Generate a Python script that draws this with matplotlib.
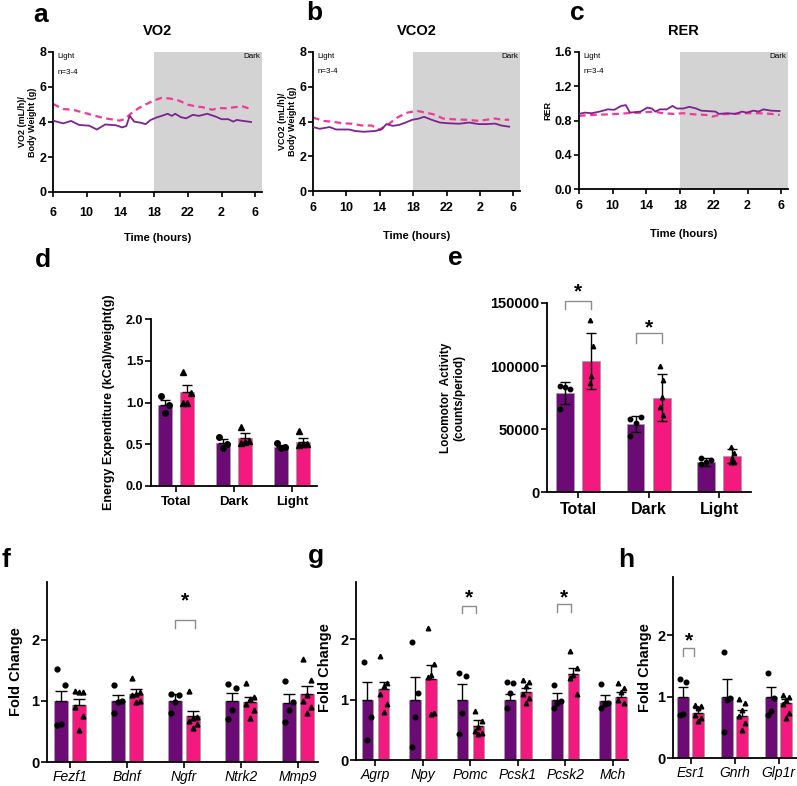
import numpy as np
import matplotlib.pyplot as plt

plt.rcParams['font.family'] = ['Liberation Sans', 'DejaVu Sans']
plt.rcParams['axes.linewidth'] = 1.3

W, H = 797, 786
PURPLE = '#6D0B76'
PINK = '#F3197F'
LINE_PURPLE = '#7E2290'
LINE_PINK = '#F2389A'
SHADE = '#D3D3D3'
BRACKET = '#8C8C8C'
EDGE = '#A0A0A0'

# ---- a-c: time courses, hours counted from 6:00 (24 = midnight, 30 = 6:00 next day)
time_ticks = [6, 10, 14, 18, 22, 26, 30]
time_labels = ['6', '10', '14', '18', '22', '2', '6']

vo2_ctrl_t = [6, 7.2, 8.15, 9.1, 10.3, 11.2, 12.2, 13.5, 14.2, 14.7, 15.1, 15.65, 16.4, 17, 17.6, 18.35,
              18.9, 19.6, 20.1, 20.5, 21.2, 21.8, 22.6, 23.3, 24.3, 25.3, 26, 26.8, 27.4, 27.8, 28.3, 29.5]
vo2_ctrl = [4.08, 3.92, 4.06, 3.83, 3.79, 3.57, 3.86, 3.81, 3.69, 3.77, 4.35, 4.02, 3.96, 3.88, 4.12, 4.27,
            4.35, 4.47, 4.35, 4.47, 4.27, 4.21, 4.41, 4.35, 4.47, 4.31, 4.16, 4.16, 4.02, 4.12, 4.08, 4.0]
vo2_ko_t = [6, 7.2, 8.35, 9.9, 11, 12.2, 13.9, 14.5, 15.3, 16.2, 17.2, 18, 18.9, 19.9, 20.85, 22, 23,
            23.7, 24.9, 25.65, 26.6, 27.6, 28.5, 29.5]
vo2_ko = [5.03, 4.74, 4.7, 4.5, 4.35, 4.21, 4.08, 4.16, 4.5, 4.8, 5.05, 5.24, 5.38, 5.34, 5.24, 4.99, 4.89,
          4.85, 4.7, 4.8, 4.78, 4.85, 4.89, 4.74]

vco2_ctrl_t = [6, 6.8, 8, 8.75, 10.3, 11.1, 12.05, 13.4, 14.2, 14.8, 15.55, 16.3, 17.1, 17.9, 18.7, 19.3,
               20.2, 21.2, 22.15, 23.5, 24.7, 25.85, 26.8, 27.8, 28.55, 29.5]
vco2_ctrl = [3.68, 3.58, 3.68, 3.54, 3.54, 3.45, 3.41, 3.45, 3.54, 3.85, 3.75, 3.8, 3.94, 4.1, 4.17, 4.27,
             4.1, 3.94, 3.9, 3.87, 3.94, 3.85, 3.85, 3.88, 3.77, 3.7]
vco2_ko_t = [6, 7.2, 8.4, 9.5, 10.7, 11.85, 13, 14, 15, 16.1, 17.3, 18.5, 19.45, 20.4, 21.6, 22.7, 24.3,
             25.85, 26.8, 27.8, 28.75, 29.5]
vco2_ko = [4.23, 4.04, 3.98, 3.9, 3.87, 3.77, 3.77, 3.54, 3.83, 4.23, 4.51, 4.61, 4.51, 4.42, 4.17, 4.13,
           4.1, 4.04, 4.1, 4.17, 4.1, 4.1]

rer_ctrl_t = [6, 6.7, 7.5, 8.45, 9.4, 10.2, 11, 11.55, 12.05, 13.3, 14.1, 14.65, 15.05, 15.6, 16.4, 17.1,
              17.6, 18.35, 19.1, 19.9, 20.5, 22.2, 22.6, 23.6, 24.55, 25.35, 25.9, 26.7, 27.3, 27.9, 28.8, 29.8]
rer_ctrl = [0.877, 0.892, 0.885, 0.904, 0.93, 0.925, 0.97, 0.98, 0.892, 0.904, 0.95, 0.94, 0.904, 0.93, 0.93,
            0.97, 0.94, 0.94, 0.96, 0.94, 0.915, 0.904, 0.877, 0.885, 0.877, 0.904, 0.892, 0.915, 0.904,
            0.93, 0.915, 0.91]
rer_ko_t = [6, 7.5, 9, 10.6, 11.75, 13.3, 14.85, 16, 17.2, 18.35, 19.5, 21.05, 21.85, 23, 24.2, 25.7, 27.3,
            28.8, 29.8]
rer_ko = [0.854, 0.865, 0.87, 0.877, 0.885, 0.892, 0.904, 0.885, 0.877, 0.885, 0.873, 0.865, 0.846, 0.873,
          0.877, 0.885, 0.885, 0.877, 0.865]

# ---- d: energy expenditure (mean, SEM, animals)
periods = ['Total', 'Dark', 'Light']
energy_ctrl = [0.97, 0.51, 0.47]
energy_ctrl_sem = [0.06, 0.05, 0.02]
energy_ko = [1.12, 0.58, 0.53]
energy_ko_sem = [0.09, 0.05, 0.05]
energy_ctrl_pts = [[1.08, 0.97, 0.88], [0.59, 0.50, 0.45], [0.51, 0.47, 0.46]]
energy_ko_pts = [[1.37, 1.11, 1.00, 0.99], [0.71, 0.54, 0.53, 0.52], [0.66, 0.50, 0.50, 0.49]]

# ---- e: locomotor activity (mean, SD, animals)
loco_ctrl = [78500, 54000, 23900]
loco_ctrl_sd = [8700, 6600, 2900]
loco_ko = [103700, 75000, 28500]
loco_ko_sd = [22300, 18700, 5300]
loco_ctrl_pts = [[83800, 81900, 83300, 65700], [57700, 59300, 55000, 44400], [26800, 25300, 24200, 22300]]
loco_ko_pts = [[136200, 115700, 91800, 86500], [99700, 88600, 75300, 67800, 61200],
               [35900, 30600, 26600, 23900, 23900]]

# ---- f-h: qPCR fold change (mean, SEM, animals)
genes_f = ['Fezf1', 'Bdnf', 'Ngfr', 'Ntrk2', 'Mmp9']
f_ctrl = [1.0, 1.0, 1.0, 1.0, 0.96]
f_ctrl_sem = [0.16, 0.10, 0.11, 0.13, 0.15]
f_ko = [0.93, 1.12, 0.75, 0.99, 1.12]
f_ko_sem = [0.10, 0.07, 0.08, 0.08, 0.12]
f_ctrl_pts = [[1.52, 1.26, 0.62, 0.60], [1.26, 1.00, 0.98, 0.80], [1.12, 1.10, 0.99, 0.80],
              [1.28, 1.22, 0.85, 0.71], [1.33, 0.98, 0.86, 0.66]]
f_ko_pts = [[1.16, 1.15, 1.14, 0.90, 0.75, 0.52], [1.38, 1.14, 1.12, 1.10, 1.00, 0.98],
            [1.16, 0.74, 0.72, 0.68, 0.62, 0.56], [1.30, 1.06, 1.04, 0.95, 0.85, 0.72],
            [1.68, 1.35, 1.10, 1.00, 0.90, 0.80]]

genes_g = ['Agrp', 'Npy', 'Pomc', 'Pcsk1', 'Pcsk2', 'Mch']
g_ctrl = [1.0, 1.0, 1.0, 1.0, 1.0, 0.98]
g_ctrl_sem = [0.30, 0.37, 0.26, 0.10, 0.11, 0.09]
g_ko = [1.17, 1.35, 0.56, 1.12, 1.43, 1.05]
g_ko_sem = [0.13, 0.23, 0.11, 0.07, 0.10, 0.08]
g_ctrl_pts = [[1.63, 0.71, 0.33], [1.95, 1.11, 0.71, 0.22], [1.44, 1.39, 0.78, 0.43],
              [1.30, 1.28, 1.11, 0.87], [1.24, 0.97, 0.95, 0.87], [1.26, 0.95, 0.93, 0.87]]
g_ko_pts = [[1.73, 1.28, 1.22, 1.10, 0.92, 0.79], [2.18, 1.59, 1.41, 1.38, 0.78, 0.76],
            [0.82, 0.65, 0.55, 0.48, 0.45, 0.43], [1.32, 1.30, 1.22, 1.10, 1.03, 0.95],
            [1.80, 1.52, 1.41, 1.36, 1.10], [1.28, 1.20, 1.12, 1.00, 0.95]]

genes_h = ['Esr1', 'Gnrh', 'Glp1r']
h_ctrl = [1.0, 1.0, 1.0]
h_ctrl_sem = [0.15, 0.28, 0.15]
h_ko = [0.73, 0.69, 0.89]
h_ko_sem = [0.09, 0.10, 0.07]
h_ctrl_pts = [[1.28, 1.24, 0.72, 0.70], [1.72, 0.97, 0.95, 0.43], [1.38, 0.98, 0.76, 0.70]]
h_ko_pts = [[0.87, 0.85, 0.82, 0.70, 0.65, 0.60], [0.96, 0.90, 0.78, 0.68, 0.57, 0.46],
            [1.02, 1.00, 0.95, 0.88, 0.73, 0.65]]


fig = plt.figure(figsize=(W / 100, H / 100), dpi=100)


def add_axes_px(left, top, right, bottom):
    return fig.add_axes([left / W, 1 - bottom / H, (right - left) / W, (bottom - top) / H])


def time_panel(ax, t_ctrl, v_ctrl, t_ko, v_ko, yticks, ylabels, ylabel, label_x, title, xpad):
    ax.axvspan(18, 30.8, color=SHADE, lw=0, zorder=0)
    ax.plot(t_ko, v_ko, color=LINE_PINK, lw=1.6, ls=(0, (3, 2)), zorder=2)
    ax.plot(t_ctrl, v_ctrl, color=LINE_PURPLE, lw=1.3, zorder=3)
    ax.set_xlim(6, 30.8)
    ax.set_ylim(yticks[0], yticks[-1])
    ax.set_xticks(time_ticks, time_labels, fontsize=9, fontweight='bold')
    ax.set_yticks(yticks, ylabels, fontsize=9, fontweight='bold')
    ax.tick_params(axis='both', length=3.5, width=1.2)
    ax.tick_params(axis='x', pad=xpad)
    ax.tick_params(axis='y', pad=1.5)
    ax.spines[['top', 'right']].set_visible(False)
    ax.set_title(title, fontsize=10.5, fontweight='bold', pad=12)
    ax.set_ylabel(ylabel, fontsize=6.5, fontweight='bold', linespacing=1.1)
    ax.yaxis.set_label_coords(label_x, 0.5)
    ax.set_xlabel('Time (hours)', fontsize=8, fontweight='bold', va='top')
    ax.xaxis.set_label_coords(0.5, -0.29)
    ax.text(0.02, 0.965, 'Light', transform=ax.transAxes, fontsize=5.8, va='center')
    ax.text(0.02, 0.857, 'n=3-4', transform=ax.transAxes, fontsize=5.8, va='center')
    ax.text(0.99, 0.965, 'Dark', transform=ax.transAxes, fontsize=5.8, va='center', ha='right')


def bar_panel(ax, names, ctrl, ctrl_err, ko, ko_err, ctrl_pts, ko_pts, width, offset,
              two_sided=False, ms=3.5, cap=3.5, spread=0.28, ko_spread=None):
    if ko_spread is None:
        ko_spread = spread
    x = np.arange(len(names))
    ax.bar(x - offset, ctrl, width, color=PURPLE, edgecolor=EDGE, linewidth=0.6, zorder=1)
    ax.bar(x + offset, ko, width, color=PINK, edgecolor=EDGE, linewidth=0.6, zorder=1)
    for xs, means, errs in ((x - offset, ctrl, ctrl_err), (x + offset, ko, ko_err)):
        errs = np.asarray(errs, dtype=float)
        yerr = errs if two_sided else [np.zeros_like(errs), errs]
        ax.errorbar(xs, means, yerr=yerr, fmt='none', ecolor='black', elinewidth=1.0,
                    capsize=cap, capthick=1.0, zorder=4)
    pattern = np.array([-1.0, 1.0, 0.0])
    for i in range(len(names)):
        for pts, base, marker, s in ((ctrl_pts[i], x[i] - offset, 'o', spread),
                                     (ko_pts[i], x[i] + offset, '^', ko_spread)):
            jit = np.resize(pattern, len(pts)) * width * s
            ax.plot(base + jit, pts, marker, color='black', ms=ms, ls='none', zorder=3)
    ax.set_xticks(x)
    ax.spines[['top', 'right']].set_visible(False)
    ax.tick_params(axis='both', length=4, width=1.2)
    ax.tick_params(axis='y', pad=1.5)
    return x


def bracket(ax, x1, x2, y_leg, y_top, y_star, fs=15):
    ax.plot([x1, x1, x2, x2], [y_leg, y_top, y_top, y_leg], color=BRACKET, lw=1.0, clip_on=False, zorder=5)
    ax.annotate('*', xy=((x1 + x2) / 2, y_star), xytext=(0, -0.6 * fs), textcoords='offset points',
                ha='center', va='baseline', fontsize=fs, fontweight='bold', annotation_clip=False)


# ---- a, b, c
ax_a = add_axes_px(53, 52, 262, 192)
time_panel(ax_a, vo2_ctrl_t, vo2_ctrl, vo2_ko_t, vo2_ko, [0, 2, 4, 6, 8], ['0', '2', '4', '6', '8'],
           'VO2 (mL/h)/\nBody Weight (g)', -0.077, 'VO2', 7)
ax_b = add_axes_px(313, 52, 520, 191)
time_panel(ax_b, vco2_ctrl_t, vco2_ctrl, vco2_ko_t, vco2_ko, [0, 2, 4, 6, 8], ['0', '2', '4', '6', '8'],
           'VCO2 (mL/h)/\nBody Weight (g)', -0.077, 'VCO2', 4.5)
ax_c = add_axes_px(579, 52, 788, 189)
time_panel(ax_c, rer_ctrl_t, rer_ctrl, rer_ko_t, rer_ko, [0, 0.4, 0.8, 1.2, 1.6],
           ['0.0', '0.4', '0.8', '1.2', '1.6'], 'RER', -0.129, 'RER', 4.5)
ax_c.yaxis.set_label_coords(-0.129, 0.57)

# ---- d
ax_d = add_axes_px(151, 319, 317, 486)
bar_panel(ax_d, periods, energy_ctrl, energy_ctrl_sem, energy_ko, energy_ko_sem,
          energy_ctrl_pts, energy_ko_pts, width=0.24, offset=0.19, ms=4, cap=3.5)
ax_d.set_xlim(-0.43, 2.43)
ax_d.set_ylim(0, 2.0)
ax_d.set_xticklabels(periods, fontsize=9.5, fontweight='bold')
ax_d.set_yticks([0, 0.5, 1.0, 1.5, 2.0], ['0.0', '0.5', '1.0', '1.5', '2.0'], fontsize=9, fontweight='bold')
ax_d.set_ylabel('Energy Expenditure (kCal)/weight(g)', fontsize=9, fontweight='bold')
ax_d.yaxis.set_label_coords(-0.217, 0.5)

# ---- e
ax_e = add_axes_px(547, 303, 751, 492)
bar_panel(ax_e, periods, loco_ctrl, loco_ctrl_sd, loco_ko, loco_ko_sd,
          loco_ctrl_pts, loco_ko_pts, width=0.25, offset=0.185, two_sided=True, ms=3.2, cap=3.5,
          spread=0.3, ko_spread=0.08)
ax_e.set_xlim(-0.44, 2.45)
ax_e.set_ylim(0, 150000)
ax_e.set_xticklabels(periods, fontsize=11.5, fontweight='bold')
ax_e.set_yticks([0, 50000, 100000, 150000], ['0', '50000', '100000', '150000'], fontsize=10.5,
                fontweight='bold')
ax_e.set_ylabel('Locomotor  Activity\n(counts/period)', fontsize=8.5, fontweight='bold', linespacing=1.1)
ax_e.yaxis.set_label_coords(-0.40, 0.5)
bracket(ax_e, -0.185, 0.185, 145000, 151600, 164000)
bracket(ax_e, 1 - 0.185, 1 + 0.185, 118000, 126000, 135600)


def fold_axes(ax, names):
    ax.set_ylim(0, 2.95)
    ax.set_yticks([0, 1, 2], ['0', '1', '2'], fontsize=10.5, fontweight='bold')
    ax.set_xticklabels(names, fontsize=10, fontstyle='italic')
    ax.tick_params(axis='x', pad=2)
    ax.set_ylabel('Fold Change', fontsize=10.5, fontweight='bold')


# ---- f
ax_f = add_axes_px(47, 582, 318, 762)
bar_panel(ax_f, genes_f, f_ctrl, f_ctrl_sem, f_ko, f_ko_sem, f_ctrl_pts, f_ko_pts,
          width=0.245, offset=0.16, ms=3.5, cap=4)
ax_f.set_xlim(-0.40, 4.35)
fold_axes(ax_f, genes_f)
ax_f.yaxis.set_label_coords(-0.089, 0.5)
bracket(ax_f, 2 - 0.16, 2 + 0.2, 2.19, 2.33, 2.75)

# ---- g
ax_g = add_axes_px(356, 582, 628, 760)
bar_panel(ax_g, genes_g, g_ctrl, g_ctrl_sem, g_ko, g_ko_sem, g_ctrl_pts, g_ko_pts,
          width=0.245, offset=0.17, ms=3.3, cap=3.5)
ax_g.set_xlim(-0.41, 5.32)
fold_axes(ax_g, genes_g)
ax_g.yaxis.set_label_coords(-0.088, 0.52)
bracket(ax_g, 2 - 0.17, 2 + 0.12, 2.43, 2.56, 2.8)
bracket(ax_g, 4 - 0.17, 4 + 0.12, 2.45, 2.59, 2.8)

# ---- h
ax_h = add_axes_px(673, 577, 797, 758)
bar_panel(ax_h, genes_h, h_ctrl, h_ctrl_sem, h_ko, h_ko_sem, h_ctrl_pts, h_ko_pts,
          width=0.26, offset=0.17, ms=3.3, cap=3.5)
ax_h.set_xlim(-0.40, 2.42)
fold_axes(ax_h, genes_h)
ax_h.yaxis.set_label_coords(-0.169, 0.5)
bracket(ax_h, -0.17, 0.08, 1.67, 1.8, 2.03)

# ---- panel letters
for letter, x, y in [('a', 33, 22), ('b', 306, 20), ('c', 570, 20), ('d', 35, 267), ('e', 448, 265),
                     ('f', 1, 567), ('g', 308, 563), ('h', 618, 567)]:
    fig.text(x / W, 1 - y / H, letter, fontsize=19, fontweight='bold', ha='left', va='baseline')

fig.savefig('out.png', dpi=100)
